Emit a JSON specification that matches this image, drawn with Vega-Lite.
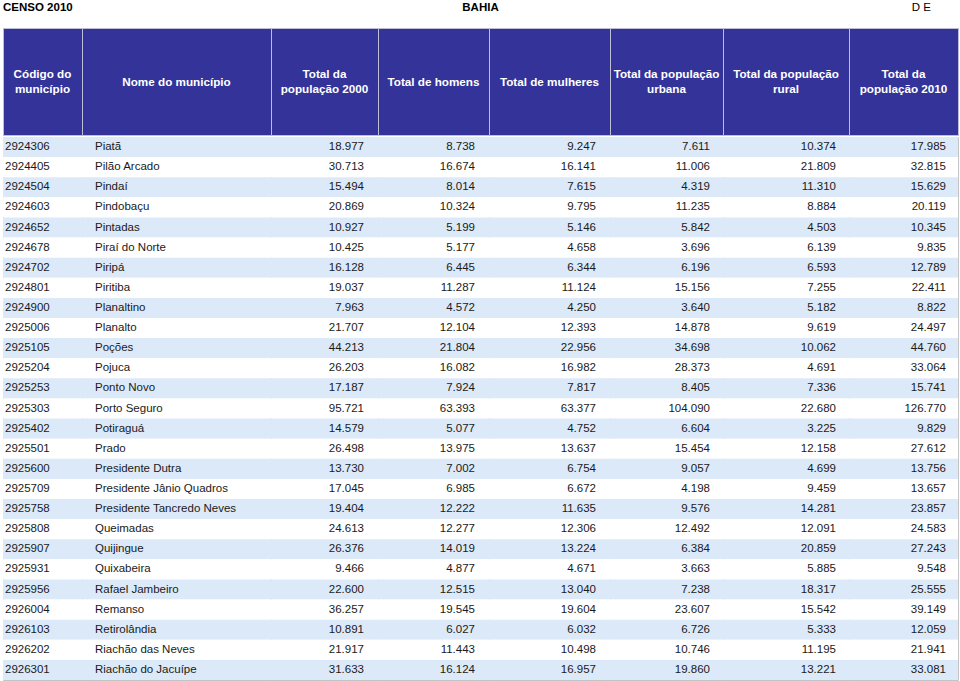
{
  "$schema": "https://vega.github.io/schema/vega-lite/v6.json",
  "padding": {"left": 2, "top": 0, "right": 0, "bottom": 0},
  "bounds": "flush",
  "spacing": 13,
  "config": {
    "view": {"stroke": null},
    "locale": {"number": {"decimal": ",", "thousands": ".", "grouping": [3], "currency": ["R$ ", ""]}},
    "text": {"font": "Liberation Sans", "fontSize": 11.5, "color": "#1a1a1a"}
  },
  "datasets": {
    "rows": [
      {"code": "2924306", "name": "Piatã", "p2000": 18977, "homens": 8738, "mulheres": 9247, "urbana": 7611, "rural": 10374, "p2010": 17985},
      {"code": "2924405", "name": "Pilão Arcado", "p2000": 30713, "homens": 16674, "mulheres": 16141, "urbana": 11006, "rural": 21809, "p2010": 32815},
      {"code": "2924504", "name": "Pindaí", "p2000": 15494, "homens": 8014, "mulheres": 7615, "urbana": 4319, "rural": 11310, "p2010": 15629},
      {"code": "2924603", "name": "Pindobaçu", "p2000": 20869, "homens": 10324, "mulheres": 9795, "urbana": 11235, "rural": 8884, "p2010": 20119},
      {"code": "2924652", "name": "Pintadas", "p2000": 10927, "homens": 5199, "mulheres": 5146, "urbana": 5842, "rural": 4503, "p2010": 10345},
      {"code": "2924678", "name": "Piraí do Norte", "p2000": 10425, "homens": 5177, "mulheres": 4658, "urbana": 3696, "rural": 6139, "p2010": 9835},
      {"code": "2924702", "name": "Piripá", "p2000": 16128, "homens": 6445, "mulheres": 6344, "urbana": 6196, "rural": 6593, "p2010": 12789},
      {"code": "2924801", "name": "Piritiba", "p2000": 19037, "homens": 11287, "mulheres": 11124, "urbana": 15156, "rural": 7255, "p2010": 22411},
      {"code": "2924900", "name": "Planaltino", "p2000": 7963, "homens": 4572, "mulheres": 4250, "urbana": 3640, "rural": 5182, "p2010": 8822},
      {"code": "2925006", "name": "Planalto", "p2000": 21707, "homens": 12104, "mulheres": 12393, "urbana": 14878, "rural": 9619, "p2010": 24497},
      {"code": "2925105", "name": "Poções", "p2000": 44213, "homens": 21804, "mulheres": 22956, "urbana": 34698, "rural": 10062, "p2010": 44760},
      {"code": "2925204", "name": "Pojuca", "p2000": 26203, "homens": 16082, "mulheres": 16982, "urbana": 28373, "rural": 4691, "p2010": 33064},
      {"code": "2925253", "name": "Ponto Novo", "p2000": 17187, "homens": 7924, "mulheres": 7817, "urbana": 8405, "rural": 7336, "p2010": 15741},
      {"code": "2925303", "name": "Porto Seguro", "p2000": 95721, "homens": 63393, "mulheres": 63377, "urbana": 104090, "rural": 22680, "p2010": 126770},
      {"code": "2925402", "name": "Potiraguá", "p2000": 14579, "homens": 5077, "mulheres": 4752, "urbana": 6604, "rural": 3225, "p2010": 9829},
      {"code": "2925501", "name": "Prado", "p2000": 26498, "homens": 13975, "mulheres": 13637, "urbana": 15454, "rural": 12158, "p2010": 27612},
      {"code": "2925600", "name": "Presidente Dutra", "p2000": 13730, "homens": 7002, "mulheres": 6754, "urbana": 9057, "rural": 4699, "p2010": 13756},
      {"code": "2925709", "name": "Presidente Jânio Quadros", "p2000": 17045, "homens": 6985, "mulheres": 6672, "urbana": 4198, "rural": 9459, "p2010": 13657},
      {"code": "2925758", "name": "Presidente Tancredo Neves", "p2000": 19404, "homens": 12222, "mulheres": 11635, "urbana": 9576, "rural": 14281, "p2010": 23857},
      {"code": "2925808", "name": "Queimadas", "p2000": 24613, "homens": 12277, "mulheres": 12306, "urbana": 12492, "rural": 12091, "p2010": 24583},
      {"code": "2925907", "name": "Quijingue", "p2000": 26376, "homens": 14019, "mulheres": 13224, "urbana": 6384, "rural": 20859, "p2010": 27243},
      {"code": "2925931", "name": "Quixabeira", "p2000": 9466, "homens": 4877, "mulheres": 4671, "urbana": 3663, "rural": 5885, "p2010": 9548},
      {"code": "2925956", "name": "Rafael Jambeiro", "p2000": 22600, "homens": 12515, "mulheres": 13040, "urbana": 7238, "rural": 18317, "p2010": 25555},
      {"code": "2926004", "name": "Remanso", "p2000": 36257, "homens": 19545, "mulheres": 19604, "urbana": 23607, "rural": 15542, "p2010": 39149},
      {"code": "2926103", "name": "Retirolândia", "p2000": 10891, "homens": 6027, "mulheres": 6032, "urbana": 6726, "rural": 5333, "p2010": 12059},
      {"code": "2926202", "name": "Riachão das Neves", "p2000": 21917, "homens": 11443, "mulheres": 10498, "urbana": 10746, "rural": 11195, "p2010": 21941},
      {"code": "2926301", "name": "Riachão do Jacuípe", "p2000": 31633, "homens": 16124, "mulheres": 16957, "urbana": 19860, "rural": 13221, "p2010": 33081}
    ]
  },
  "vconcat": [
    {
      "width": 955, "height": 15,
      "data": {"values": [{"left": "CENSO 2010", "center": "BAHIA", "right": "D E"}]},
      "layer": [
        {"mark": {"type": "text", "align": "left", "fontWeight": "bold", "color": "#000000"}, "encoding": {"x": {"value": 0}, "text": {"field": "left"}}},
        {"mark": {"type": "text", "align": "center", "fontWeight": "bold", "color": "#000000"}, "encoding": {"text": {"field": "center"}}},
        {"mark": {"type": "text", "align": "right", "dx": -27, "color": "#000000"}, "encoding": {"x": {"value": "width"}, "text": {"field": "right"}}}
      ]
    },
    {
      "spacing": 0,
      "vconcat": [
        {
          "spacing": 0,
          "bounds": "flush",
          "hconcat": [
            {"width": 79, "height": 107, "view": {"fill": "#333399", "stroke": "#bdbdd8"}, "data": {"values": [{"label": "Código do\nmunicípio"}]}, "mark": {"type": "text", "lineBreak": "\n", "lineHeight": 15, "dy": -7.5, "fontSize": 11.7, "fontWeight": "bold", "color": "#ffffff", "baseline": "middle"}, "encoding": {"text": {"field": "label"}}},
            {"width": 189, "height": 107, "view": {"fill": "#333399", "stroke": "#bdbdd8"}, "data": {"values": [{"label": "Nome do município"}]}, "mark": {"type": "text", "lineBreak": "\n", "lineHeight": 15, "fontSize": 11.7, "fontWeight": "bold", "color": "#ffffff", "baseline": "middle"}, "encoding": {"text": {"field": "label"}}},
            {"width": 107, "height": 107, "view": {"fill": "#333399", "stroke": "#bdbdd8"}, "data": {"values": [{"label": "Total da\npopulação 2000"}]}, "mark": {"type": "text", "lineBreak": "\n", "lineHeight": 15, "dy": -7.5, "fontSize": 11.7, "fontWeight": "bold", "color": "#ffffff", "baseline": "middle"}, "encoding": {"text": {"field": "label"}}},
            {"width": 111, "height": 107, "view": {"fill": "#333399", "stroke": "#bdbdd8"}, "data": {"values": [{"label": "Total de homens"}]}, "mark": {"type": "text", "lineBreak": "\n", "lineHeight": 15, "fontSize": 11.7, "fontWeight": "bold", "color": "#ffffff", "baseline": "middle"}, "encoding": {"text": {"field": "label"}}},
            {"width": 121, "height": 107, "view": {"fill": "#333399", "stroke": "#bdbdd8"}, "data": {"values": [{"label": "Total de mulheres"}]}, "mark": {"type": "text", "lineBreak": "\n", "lineHeight": 15, "fontSize": 11.7, "fontWeight": "bold", "color": "#ffffff", "baseline": "middle"}, "encoding": {"text": {"field": "label"}}},
            {"width": 113, "height": 107, "view": {"fill": "#333399", "stroke": "#bdbdd8"}, "data": {"values": [{"label": "Total da população\nurbana"}]}, "mark": {"type": "text", "lineBreak": "\n", "lineHeight": 15, "dy": -7.5, "fontSize": 11.7, "fontWeight": "bold", "color": "#ffffff", "baseline": "middle"}, "encoding": {"text": {"field": "label"}}},
            {"width": 126, "height": 107, "view": {"fill": "#333399", "stroke": "#bdbdd8"}, "data": {"values": [{"label": "Total da população\nrural"}]}, "mark": {"type": "text", "lineBreak": "\n", "lineHeight": 15, "dy": -7.5, "fontSize": 11.7, "fontWeight": "bold", "color": "#ffffff", "baseline": "middle"}, "encoding": {"text": {"field": "label"}}},
            {"width": 109, "height": 107, "view": {"fill": "#333399", "stroke": "#bdbdd8"}, "data": {"values": [{"label": "Total da\npopulação 2010"}]}, "mark": {"type": "text", "lineBreak": "\n", "lineHeight": 15, "dy": -7.5, "fontSize": 11.7, "fontWeight": "bold", "color": "#ffffff", "baseline": "middle"}, "encoding": {"text": {"field": "label"}}}
          ]
        },
        {
          "spacing": 0,
          "bounds": "flush",
          "hconcat": [
            {"width": 79, "height": 543, "data": {"name": "rows"}, "transform": [{"window": [{"op": "row_number", "as": "rn"}]}], "view": {"stroke": "#c4c4c4"},
             "encoding": {"y": {"field": "code", "type": "ordinal", "sort": null, "axis": null, "scale": {"paddingInner": 0, "paddingOuter": 0}}},
             "layer": [
               {"mark": {"type": "rect"}, "encoding": {"fill": {"condition": {"test": "datum.rn % 2 === 1", "value": "#dce9f8"}, "value": "#ffffff"}}},
               {"mark": {"type": "text", "align": "left", "dx": 2}, "encoding": {"x": {"value": 0}, "text": {"field": "code", "type": "nominal"}}}
             ]},
            {"width": 189, "height": 543, "data": {"name": "rows"}, "transform": [{"window": [{"op": "row_number", "as": "rn"}]}], "view": {"stroke": "#c4c4c4"},
             "encoding": {"y": {"field": "code", "type": "ordinal", "sort": null, "axis": null, "scale": {"paddingInner": 0, "paddingOuter": 0}}},
             "layer": [
               {"mark": {"type": "rect"}, "encoding": {"fill": {"condition": {"test": "datum.rn % 2 === 1", "value": "#dce9f8"}, "value": "#ffffff"}}},
               {"mark": {"type": "text", "align": "left", "dx": 13}, "encoding": {"x": {"value": 0}, "text": {"field": "name", "type": "nominal"}}}
             ]},
            {"width": 107, "height": 543, "data": {"name": "rows"}, "transform": [{"window": [{"op": "row_number", "as": "rn"}]}], "view": {"stroke": "#c4c4c4"},
             "encoding": {"y": {"field": "code", "type": "ordinal", "sort": null, "axis": null, "scale": {"paddingInner": 0, "paddingOuter": 0}}},
             "layer": [
               {"mark": {"type": "rect"}, "encoding": {"fill": {"condition": {"test": "datum.rn % 2 === 1", "value": "#dce9f8"}, "value": "#ffffff"}}},
               {"mark": {"type": "text", "align": "right", "dx": -14}, "encoding": {"x": {"value": "width"}, "text": {"field": "p2000", "type": "quantitative", "format": ",d"}}}
             ]},
            {"width": 111, "height": 543, "data": {"name": "rows"}, "transform": [{"window": [{"op": "row_number", "as": "rn"}]}], "view": {"stroke": "#c4c4c4"},
             "encoding": {"y": {"field": "code", "type": "ordinal", "sort": null, "axis": null, "scale": {"paddingInner": 0, "paddingOuter": 0}}},
             "layer": [
               {"mark": {"type": "rect"}, "encoding": {"fill": {"condition": {"test": "datum.rn % 2 === 1", "value": "#dce9f8"}, "value": "#ffffff"}}},
               {"mark": {"type": "text", "align": "right", "dx": -14}, "encoding": {"x": {"value": "width"}, "text": {"field": "homens", "type": "quantitative", "format": ",d"}}}
             ]},
            {"width": 121, "height": 543, "data": {"name": "rows"}, "transform": [{"window": [{"op": "row_number", "as": "rn"}]}], "view": {"stroke": "#c4c4c4"},
             "encoding": {"y": {"field": "code", "type": "ordinal", "sort": null, "axis": null, "scale": {"paddingInner": 0, "paddingOuter": 0}}},
             "layer": [
               {"mark": {"type": "rect"}, "encoding": {"fill": {"condition": {"test": "datum.rn % 2 === 1", "value": "#dce9f8"}, "value": "#ffffff"}}},
               {"mark": {"type": "text", "align": "right", "dx": -14}, "encoding": {"x": {"value": "width"}, "text": {"field": "mulheres", "type": "quantitative", "format": ",d"}}}
             ]},
            {"width": 113, "height": 543, "data": {"name": "rows"}, "transform": [{"window": [{"op": "row_number", "as": "rn"}]}], "view": {"stroke": "#c4c4c4"},
             "encoding": {"y": {"field": "code", "type": "ordinal", "sort": null, "axis": null, "scale": {"paddingInner": 0, "paddingOuter": 0}}},
             "layer": [
               {"mark": {"type": "rect"}, "encoding": {"fill": {"condition": {"test": "datum.rn % 2 === 1", "value": "#dce9f8"}, "value": "#ffffff"}}},
               {"mark": {"type": "text", "align": "right", "dx": -13}, "encoding": {"x": {"value": "width"}, "text": {"field": "urbana", "type": "quantitative", "format": ",d"}}}
             ]},
            {"width": 126, "height": 543, "data": {"name": "rows"}, "transform": [{"window": [{"op": "row_number", "as": "rn"}]}], "view": {"stroke": "#c4c4c4"},
             "encoding": {"y": {"field": "code", "type": "ordinal", "sort": null, "axis": null, "scale": {"paddingInner": 0, "paddingOuter": 0}}},
             "layer": [
               {"mark": {"type": "rect"}, "encoding": {"fill": {"condition": {"test": "datum.rn % 2 === 1", "value": "#dce9f8"}, "value": "#ffffff"}}},
               {"mark": {"type": "text", "align": "right", "dx": -13}, "encoding": {"x": {"value": "width"}, "text": {"field": "rural", "type": "quantitative", "format": ",d"}}}
             ]},
            {"width": 109, "height": 543, "data": {"name": "rows"}, "transform": [{"window": [{"op": "row_number", "as": "rn"}]}], "view": {"stroke": "#c4c4c4"},
             "encoding": {"y": {"field": "code", "type": "ordinal", "sort": null, "axis": null, "scale": {"paddingInner": 0, "paddingOuter": 0}}},
             "layer": [
               {"mark": {"type": "rect"}, "encoding": {"fill": {"condition": {"test": "datum.rn % 2 === 1", "value": "#dce9f8"}, "value": "#ffffff"}}},
               {"mark": {"type": "text", "align": "right", "dx": -12}, "encoding": {"x": {"value": "width"}, "text": {"field": "p2010", "type": "quantitative", "format": ",d"}}}
             ]}
          ]
        }
      ]
    }
  ]
}
